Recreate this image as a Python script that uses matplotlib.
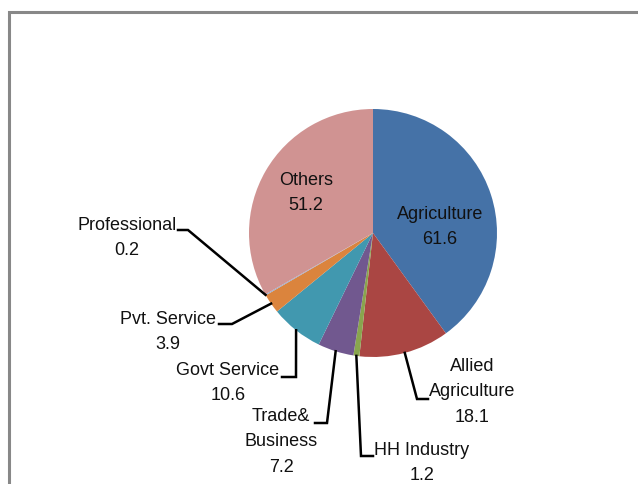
import numpy as np
import matplotlib.pyplot as plt

plt.rcParams['font.family'] = ['Liberation Sans', 'DejaVu Sans']

labels = ["Agriculture", "Allied\nAgriculture", "HH Industry", "Trade&\nBusiness",
          "Govt Service", "Pvt. Service", "Professional", "Others"]
values = [61.6, 18.1, 1.2, 7.2, 10.6, 3.9, 0.2, 51.2]
colors = ["#4572A7", "#AA4643", "#89A54E", "#71588F",
          "#4198AF", "#DB843D", "#93A9CF", "#D09392"]

W, H = 638, 485
fig = plt.figure(figsize=(W / 100, H / 100), dpi=100)
ax = fig.add_axes([0, 0, 1, 1])

# work in pixel coords, y measured from the top
def py(y):
    return H - y

cx, cy, r = 373, py(234), 124
wedges, _ = ax.pie(values, colors=colors, startangle=90, counterclock=False,
                   center=(cx, cy), radius=r, wedgeprops=dict(linewidth=0))
ax.set_xlim(0, W)
ax.set_ylim(0, H)
ax.set_aspect('equal')
ax.axis('off')

# label layout: text centre, and (elbow, end) of the leader for outside labels
layout = {
    "Agriculture": ((440, 227), None),
    "Others": ((306, 193), None),
    "Allied\nAgriculture": ((472, 392), ((417, 400), (428, 400))),
    "HH Industry": ((422, 463), ((361, 457), (373, 457))),
    "Trade&\nBusiness": ((281, 442), ((327, 424), (315, 424))),
    "Govt Service": ((228, 383), ((296, 378), (282, 378))),
    "Pvt. Service": ((168, 332), ((232, 325), (219, 325))),
    "Professional": ((127, 238), ((188, 231), (178, 231))),
}

for w, lab, val in zip(wedges, labels, values):
    (tx, ty), leader = layout[lab]
    ax.text(tx, py(ty), f"{lab}\n{val}", ha='center', va='center',
            multialignment='center', fontsize=13, linespacing=1.62,
            color='#111111')
    if leader:
        mid = np.deg2rad((w.theta1 + w.theta2) / 2)
        ex, ey = cx + r * np.cos(mid), cy + r * np.sin(mid)
        (bx, by), (fx, fy) = leader
        ax.plot([ex, bx, fx], [ey, py(by), py(fy)], color='black', lw=1.8,
                solid_joinstyle='miter', clip_on=False)

# chart area border (left and top edges visible)
ax.plot([9, 9, W + 5], [-5, py(13), py(13)], color='#888888', lw=2.2,
        clip_on=False, solid_joinstyle='miter')

fig.savefig('out.png', dpi=100)
